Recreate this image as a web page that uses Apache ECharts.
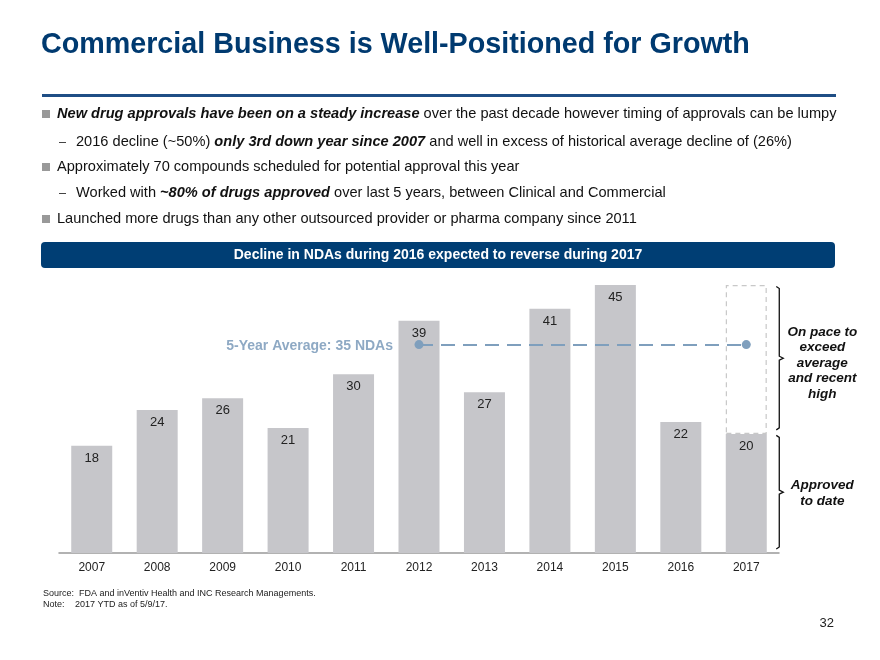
<!DOCTYPE html>
<html>
<head>
<meta charset="utf-8">
<script src="https://cdn.jsdelivr.net/npm/echarts@6/dist/echarts.min.js"></script>
<style>
html,body{margin:0;padding:0;background:#fff;}
#chart{width:880px;height:660px;}
</style>
</head>
<body>
<div id="chart"></div>
<script>
// ---- data ----
var years = ['2007','2008','2009','2010','2011','2012','2013','2014','2015','2016','2017'];
var ndas = [18, 24, 26, 21, 30, 39, 27, 41, 45, 22, 20];
var recentHigh = 45;            // 2017 pace target (top of dashed box)
var fiveYearAvg = 35;
var avgFrom = '2012', avgTo = '2017';
var bracketNotes = [
  {from: 20, to: 45, text: 'On pace to\nexceed\naverage\nand recent\nhigh'},
  {from: 0, to: 20, text: 'Approved\nto date'}
];

var FONT = 'Arial, "Liberation Sans", Helvetica, sans-serif';
var NAVY = '#003a70';

var paceData = years.map(function (y, i) {
  return y === '2017' ? recentHigh - ndas[i] : '-';
});

var chart = echarts.init(document.getElementById('chart'), null, {renderer: 'canvas'});

var bulletStyle = {fill: '#999999'};
var FS = 14.6;
function bulletText(x, y, txt) {
  return {
    type: 'text', left: x, top: y,
    style: {
      text: txt,
      font: FS + 'px ' + FONT,
      fill: '#111',
      rich: {
        b: {fontWeight: 'bold', fontStyle: 'italic', fontSize: FS, fontFamily: FONT, fill: '#111'},
        n: {fontSize: FS, fontFamily: FONT, fill: '#111'}
      }
    }
  };
}

var graphics = [
  {type: 'text', left: 41, top: 31,
   style: {text: 'Commercial Business is Well-Positioned for Growth', font: 'bold 28.7px ' + FONT, fill: NAVY}},
  {type: 'rect', shape: {x: 42, y: 94, width: 794, height: 3}, style: {fill: '#1f4e85'}},
  // bullets
  {type: 'rect', shape: {x: 42, y: 110, width: 8, height: 8}, style: bulletStyle},
  bulletText(57, 106, '{b|New drug approvals have been on a steady increase}{n| over the past decade however timing of approvals can be lumpy}'),
  {type: 'rect', shape: {x: 59, y: 142, width: 7, height: 1}, style: {fill: '#444'}},
  bulletText(76, 134, '{n|2016 decline (~50%) }{b|only 3rd down year since 2007}{n| and well in excess of historical average decline of (26%)}'),
  {type: 'rect', shape: {x: 42, y: 163, width: 8, height: 8}, style: bulletStyle},
  bulletText(57, 159, '{n|Approximately 70 compounds scheduled for potential approval this year}'),
  {type: 'rect', shape: {x: 59, y: 193, width: 7, height: 1}, style: {fill: '#444'}},
  bulletText(76, 185, '{n|Worked with }{b|~80% of drugs approved}{n| over last 5 years, between Clinical and Commercial}'),
  {type: 'rect', shape: {x: 42, y: 215, width: 8, height: 8}, style: bulletStyle},
  bulletText(57, 211, '{n|Launched more drugs than any other outsourced provider or pharma company since 2011}'),
  // banner
  {type: 'rect', shape: {x: 41, y: 242, width: 794, height: 26, r: 4}, style: {fill: '#003e74'}},
  {type: 'text', x: 438, y: 255,
   style: {text: 'Decline in NDAs during 2016 expected to reverse during 2017', font: 'bold 14px ' + FONT,
           fill: '#fff', align: 'center', verticalAlign: 'middle'}},
  // footer
  {type: 'text', left: 43, top: 589, style: {text: 'Source:  FDA and inVentiv Health and INC Research Managements.', font: '9px ' + FONT, fill: '#222'}},
  {type: 'text', left: 43, top: 600, style: {text: 'Note:', font: '9px ' + FONT, fill: '#222'}},
  {type: 'text', left: 75, top: 600, style: {text: '2017 YTD as of 5/9/17.', font: '9px ' + FONT, fill: '#222'}},
  {type: 'text', right: 46, top: 617, style: {text: '32', font: '13px ' + FONT, fill: '#222'}}
];

var option = {
  animation: false,
  backgroundColor: '#fff',
  textStyle: {fontFamily: FONT},
  grid: {left: 59, width: 720, top: 255.25, bottom: 107},
  xAxis: {
    type: 'category', data: years,
    axisLine: {lineStyle: {color: '#999', width: 1.5}},
    axisTick: {show: false},
    axisLabel: {color: '#222', fontSize: 12, margin: 9, fontFamily: FONT}
  },
  yAxis: {type: 'value', min: 0, max: 50, show: false, splitLine: {show: false}},
  graphic: graphics,
  series: [
    {
      type: 'bar', name: 'NDAs', stack: 'n', data: ndas, barWidth: 41,
      itemStyle: {color: '#c6c6ca'},
      label: {show: true, position: 'insideTop', distance: 6, color: '#222', fontSize: 13, fontFamily: FONT},
      markLine: {
        silent: true,
        symbol: ['circle', 'circle'], symbolSize: 9,
        lineStyle: {color: '#7f9fbd', width: 2, type: [14, 8]},
        itemStyle: {color: '#7f9fbd'},
        label: {show: true, position: 'start', distance: 26, formatter: '5-Year Average: ' + fiveYearAvg + ' NDAs',
                color: '#8ea9c4', fontWeight: 'bold', fontSize: 14, fontFamily: FONT, offset: [0, 2]},
        data: [[{coord: [avgFrom, fiveYearAvg]}, {coord: [avgTo, fiveYearAvg]}]]
      }
    },
    {
      type: 'bar', name: 'Pace', stack: 'n', data: paceData, barWidth: 41,
      itemStyle: {color: '#fff', borderColor: '#c8c8c8', borderWidth: 1.2, borderType: [5, 4]},
      label: {show: false}
    },
    {
      type: 'custom', name: 'brackets',
      data: bracketNotes.map(function (b) { return ['2017', b.from, b.to]; }),
      renderItem: function (params, api) {
        var i = params.dataIndex;
        var cat = api.value(0);
        var top = api.coord([cat, api.value(2)]);
        var bot = api.coord([cat, api.value(1)]);
        var x = top[0] + 33;
        var y1 = top[1] + 1.5, y2 = bot[1] - 4;
        var ym = (y1 + y2) / 2;
        var ls = {stroke: '#111', lineWidth: 1.3, fill: null};
        return {
          type: 'group',
          children: [
            {type: 'polyline', shape: {points: [[x - 3, y1], [x, y1 + 2], [x, ym - 2], [x + 4, ym], [x, ym + 2], [x, y2 - 2], [x - 3, y2]]}, style: ls},
            {type: 'text', x: x + 43, y: ym + (i === 0 ? 5 : 1),
             style: {text: bracketNotes[i].text, font: 'italic bold 13.5px ' + FONT, fill: '#111',
                     align: 'center', verticalAlign: 'middle', lineHeight: 15.5}}
          ]
        };
      },
      encode: {x: 0, y: [1, 2]},
      silent: true, z: 5
    }
  ]
};
chart.setOption(option);
</script>
</body>
</html>
